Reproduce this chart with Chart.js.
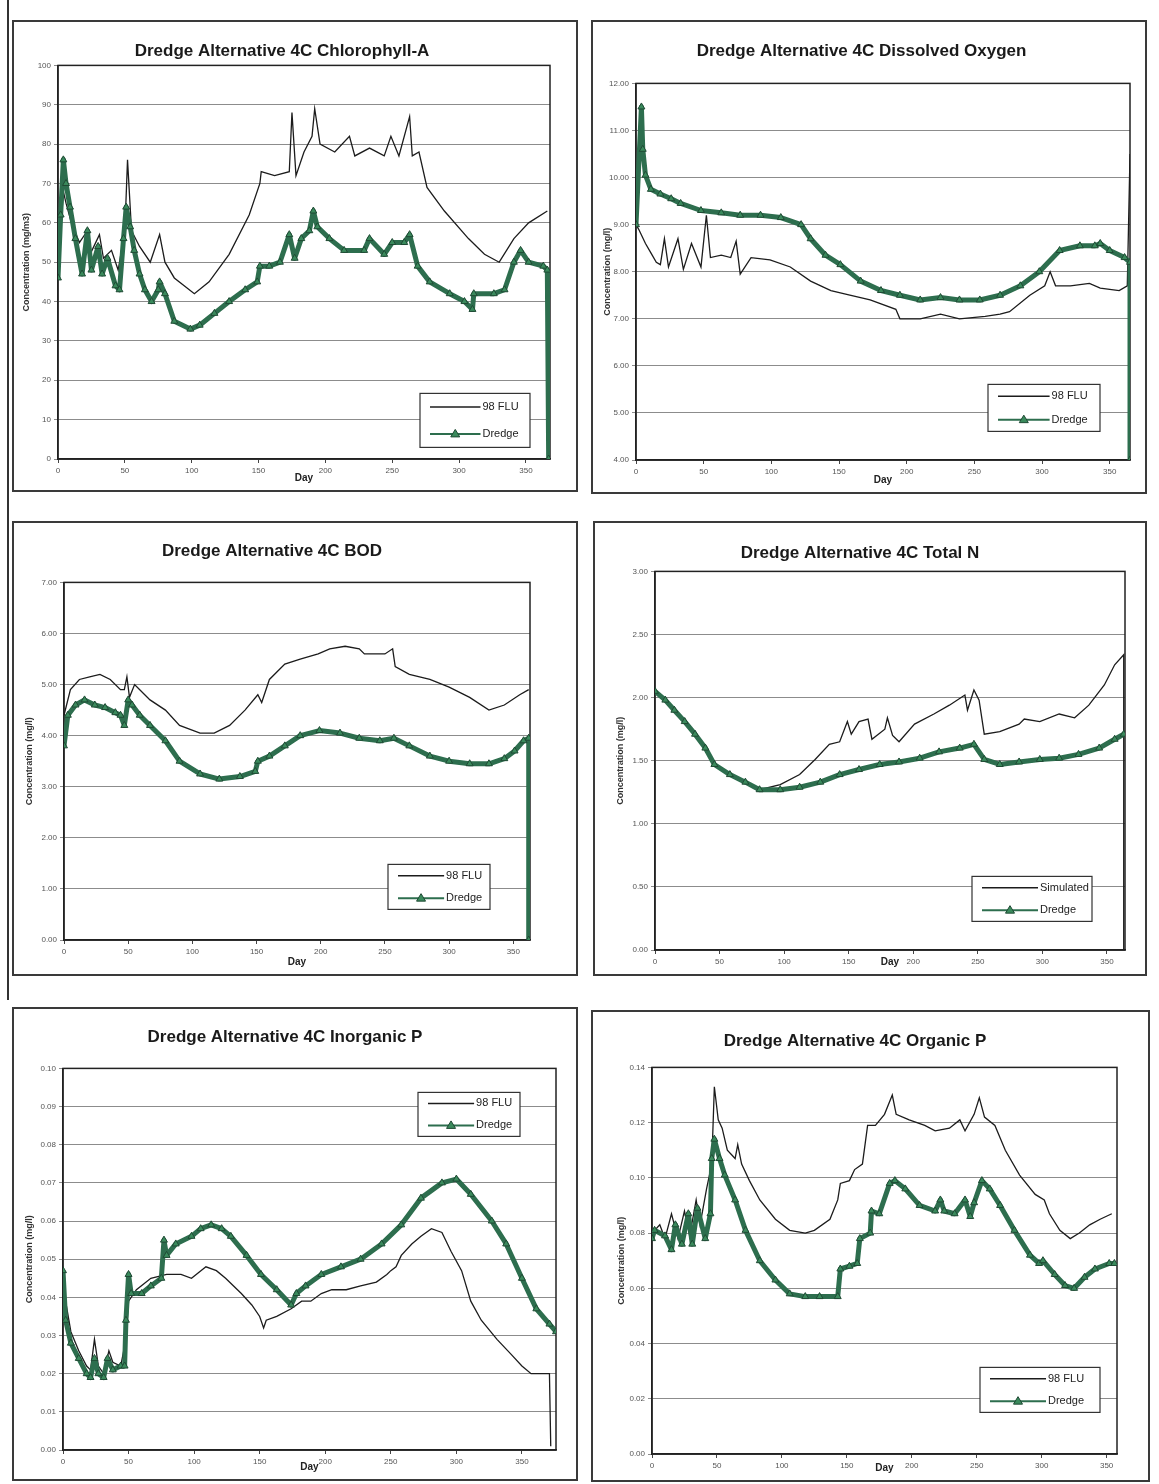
<!DOCTYPE html>
<html>
<head>
<meta charset="utf-8">
<script src="https://cdn.jsdelivr.net/npm/chart.js@4.4.0/dist/chart.umd.min.js"></script>
<style>
  body { margin: 0; background: #fff; width: 1159px; height: 1484px; position: relative; overflow: hidden; }
  .panel { position: absolute; box-sizing: border-box; border: 2px solid #3a3a3a; background: #fff; }
  .panel canvas { display: block; }
  .edge { position: absolute; left: 7px; top: 0; width: 2px; height: 1000px; background: #333; }
</style>
</head>
<body>
<div class="edge"></div>
<div class="panel" style="left:12px;top:20px;width:566px;height:472px"><canvas id="chl"></canvas></div>
<div class="panel" style="left:591px;top:20px;width:556px;height:474px"><canvas id="dox"></canvas></div>
<div class="panel" style="left:12px;top:521px;width:566px;height:455px"><canvas id="bod"></canvas></div>
<div class="panel" style="left:593px;top:521px;width:554px;height:455px"><canvas id="totn"></canvas></div>
<div class="panel" style="left:12px;top:1007px;width:566px;height:474px"><canvas id="inorgp"></canvas></div>
<div class="panel" style="left:591px;top:1010px;width:559px;height:472px"><canvas id="orgp"></canvas></div>
<script>
// [day, value] pairs for each run
const chlFlu = [[2,58],[4,68],[6,65],[10,60],[16,55],[22,58],[24,52],[31,57],[34,51],[40,53],[45,48],[50,58],[52,76],[55,58],[61,54],[69,50],[76,57],[80,50],[87,46],[102,42],[113,45],[128,52],[143,62],[151,70],[152,73],[162,72],[173,73],[175,88],[178,72],[184,78],[190,82],[192,89],[196,80],[207,78],[218,82],[222,77],[233,79],[244,77],[249,82],[255,77],[263,87],[265,77],[270,78],[276,69],[289,63],[307,56],[319,52],[330,50],[341,56],[352,60],[366,63]];
const chlDredge = [[0,46],[2,62],[4,76],[6,70],[9,64],[13,56],[18,47],[22,58],[25,48],[30,54],[33,47],[37,51],[43,44],[46,43],[49,56],[51,64],[54,59],[57,53],[61,47],[65,43],[70,40],[75,43],[76,45],[80,42],[87,35],[99,33],[106,34],[117,37],[128,40],[140,43],[149,45],[151,49],[158,49],[166,50],[173,57],[177,51],[182,56],[188,58],[191,63],[194,59],[203,56],[214,53],[229,53],[233,56],[244,52],[250,55],[259,55],[263,57],[269,49],[278,45],[293,42],[304,40],[310,38],[311,42],[326,42],[334,43],[341,50],[346,53],[352,50],[363,49],[366,48],[367,0]];

const doFlu = [[0,9.0],[2,8.9],[7,8.6],[11,8.4],[15,8.2],[18,8.15],[21,8.7],[24,8.1],[31,8.7],[35,8.05],[41,8.6],[48,8.1],[52,9.2],[55,8.3],[63,8.35],[70,8.3],[74,8.65],[77,7.95],[85,8.3],[99,8.25],[114,8.1],[129,7.8],[144,7.6],[158,7.5],[173,7.4],[192,7.2],[195,7.0],[210,7.0],[225,7.1],[239,7.0],[258,7.05],[269,7.1],[276,7.15],[291,7.5],[302,7.7],[306,8.0],[310,7.7],[321,7.7],[335,7.75],[343,7.65],[357,7.6],[363,7.7],[365,10.5]];
const doDredge = [[0,9.0],[4,11.5],[5,10.6],[7,10.05],[11,9.75],[18,9.65],[26,9.55],[33,9.45],[48,9.3],[63,9.25],[77,9.2],[92,9.2],[107,9.15],[122,9.0],[129,8.7],[140,8.35],[151,8.15],[166,7.8],[181,7.6],[195,7.5],[210,7.4],[225,7.45],[239,7.4],[254,7.4],[269,7.5],[284,7.7],[298,8.0],[313,8.45],[328,8.55],[339,8.55],[343,8.6],[350,8.45],[361,8.3],[365,8.2],[365,4.0]];

const bodFlu = [[0,4.4],[5,4.9],[12,5.1],[20,5.15],[28,5.2],[36,5.1],[44,4.9],[47,4.9],[49,5.15],[51,4.75],[55,5.0],[59,4.9],[67,4.7],[79,4.5],[90,4.2],[106,4.05],[117,4.05],[129,4.2],[141,4.5],[151,4.8],[154,4.65],[160,5.1],[172,5.4],[184,5.5],[198,5.6],[207,5.7],[219,5.75],[230,5.7],[234,5.6],[242,5.6],[250,5.6],[256,5.7],[258,5.35],[269,5.2],[285,5.1],[300,4.95],[316,4.75],[331,4.5],[343,4.6],[355,4.8],[362,4.9]];
const bodDredge = [[0,3.8],[3,4.4],[9,4.6],[16,4.7],[24,4.6],[32,4.55],[40,4.45],[44,4.4],[47,4.2],[50,4.7],[53,4.6],[59,4.4],[67,4.2],[79,3.9],[90,3.5],[106,3.25],[121,3.15],[137,3.2],[149,3.3],[151,3.5],[160,3.6],[172,3.8],[184,4.0],[199,4.1],[215,4.05],[230,3.95],[246,3.9],[257,3.95],[269,3.8],[285,3.6],[300,3.5],[316,3.45],[331,3.45],[343,3.55],[351,3.7],[358,3.9],[362,3.95],[362,0]];

const tnSimulated = [[0,2.05],[8,1.98],[15,1.9],[23,1.81],[31,1.71],[39,1.6],[46,1.47],[58,1.39],[70,1.33],[81,1.27],[97,1.31],[112,1.39],[124,1.51],[135,1.63],[143,1.65],[149,1.81],[152,1.71],[158,1.81],[165,1.83],[168,1.67],[178,1.75],[180,1.84],[184,1.7],[189,1.65],[201,1.79],[216,1.87],[228,1.94],[240,2.02],[242,1.9],[247,2.06],[251,1.98],[255,1.71],[267,1.73],[282,1.79],[286,1.83],[298,1.81],[313,1.87],[325,1.84],[336,1.94],[348,2.1],[356,2.26],[363,2.34],[363,0]];
const tnDredge = [[0,2.05],[8,1.98],[15,1.9],[23,1.81],[31,1.71],[39,1.6],[46,1.47],[58,1.39],[70,1.33],[81,1.27],[97,1.27],[112,1.29],[128,1.33],[143,1.39],[158,1.43],[174,1.47],[189,1.49],[205,1.52],[220,1.57],[236,1.6],[247,1.63],[255,1.51],[267,1.47],[282,1.49],[298,1.51],[313,1.52],[328,1.55],[344,1.6],[356,1.67],[363,1.71]];

const ipFlu = [[1,0.041],[6,0.031],[12,0.026],[18,0.022],[21,0.021],[24,0.029],[27,0.022],[31,0.020],[35,0.026],[38,0.023],[44,0.022],[48,0.029],[50,0.039],[56,0.042],[67,0.045],[79,0.046],[90,0.046],[98,0.045],[109,0.048],[117,0.047],[124,0.045],[136,0.041],[144,0.038],[150,0.035],[153,0.032],[155,0.034],[163,0.035],[174,0.037],[182,0.039],[189,0.039],[197,0.041],[205,0.042],[216,0.042],[227,0.043],[239,0.044],[247,0.046],[250,0.047],[254,0.048],[258,0.051],[266,0.054],[273,0.056],[281,0.058],[289,0.057],[296,0.052],[304,0.047],[311,0.039],[319,0.034],[331,0.029],[342,0.025],[350,0.022],[357,0.020],[365,0.020],[371,0.020],[372,0.001]];
const ipDredge = [[0,0.047],[2,0.034],[6,0.028],[12,0.024],[18,0.020],[21,0.019],[24,0.024],[27,0.020],[31,0.019],[34,0.024],[38,0.021],[44,0.022],[47,0.022],[48,0.034],[50,0.046],[52,0.041],[60,0.041],[67,0.043],[75,0.045],[77,0.055],[79,0.051],[86,0.054],[98,0.056],[105,0.058],[113,0.059],[121,0.058],[128,0.056],[140,0.051],[151,0.046],[163,0.042],[174,0.038],[178,0.041],[185,0.043],[197,0.046],[212,0.048],[227,0.050],[243,0.054],[258,0.059],[273,0.066],[289,0.070],[300,0.071],[311,0.067],[327,0.060],[338,0.054],[350,0.045],[361,0.037],[371,0.033],[376,0.031]];

const opFlu = [[0,0.080],[6,0.083],[10,0.078],[15,0.087],[20,0.078],[25,0.088],[29,0.079],[34,0.092],[37,0.083],[42,0.096],[46,0.105],[48,0.133],[51,0.121],[54,0.118],[58,0.110],[64,0.107],[66,0.112],[69,0.105],[75,0.099],[83,0.092],[95,0.085],[106,0.081],[118,0.080],[125,0.081],[137,0.085],[143,0.092],[145,0.098],[152,0.099],[156,0.103],[162,0.105],[166,0.119],[172,0.119],[179,0.123],[185,0.130],[188,0.123],[198,0.121],[210,0.119],[218,0.117],[229,0.118],[237,0.121],[241,0.117],[248,0.123],[252,0.129],[256,0.122],[264,0.119],[272,0.110],[283,0.101],[295,0.094],[302,0.092],[306,0.087],[314,0.081],[322,0.078],[329,0.080],[337,0.083],[345,0.085],[354,0.087]];
const opDredge = [[0,0.078],[2,0.081],[10,0.079],[15,0.074],[18,0.083],[23,0.076],[28,0.087],[31,0.076],[35,0.089],[41,0.078],[45,0.087],[46,0.107],[48,0.114],[52,0.107],[56,0.101],[64,0.092],[72,0.081],[83,0.070],[95,0.063],[106,0.058],[118,0.057],[129,0.057],[143,0.057],[145,0.067],[152,0.068],[158,0.069],[160,0.078],[168,0.080],[169,0.088],[175,0.087],[183,0.098],[187,0.099],[195,0.096],[206,0.090],[218,0.088],[222,0.092],[225,0.088],[233,0.087],[241,0.092],[245,0.086],[248,0.091],[254,0.099],[260,0.096],[268,0.090],[279,0.081],[291,0.072],[298,0.069],[301,0.070],[310,0.065],[318,0.061],[325,0.060],[333,0.064],[341,0.067],[352,0.069],[356,0.069]];

const fontFamily = 'Arial, "Liberation Sans", Helvetica, sans-serif';

// frame round the plot area
const plotFrame = {
  id: 'plotFrame',
  beforeDatasetsDraw(chart) {
    const { ctx, chartArea: a } = chart;
    ctx.save();
    ctx.strokeStyle = '#222';
    ctx.lineWidth = 1.5;
    ctx.strokeRect(a.left, a.top, a.right - a.left, a.bottom - a.top);
    ctx.restore();
  }
};

// boxed legend placed inside the plot area
const boxLegend = {
  id: 'boxLegend',
  afterDraw(chart, args, opts) {
    const { ctx, chartArea: a } = chart;
    const x = a.left + opts.left, y = a.top + opts.top, w = opts.w, h = opts.h;
    ctx.save();
    ctx.fillStyle = '#fff';
    ctx.fillRect(x, y, w, h);
    ctx.strokeStyle = '#333';
    ctx.lineWidth = 1.2;
    ctx.strokeRect(x, y, w, h);
    ctx.font = '11px ' + fontFamily;
    ctx.textBaseline = 'middle';
    chart.data.datasets.forEach((ds, i) => {
      const ry = y + h * (i * 2 + 1) / 4;
      const x0 = x + 10, x1 = x + w * 0.55;
      ctx.strokeStyle = ds.borderColor;
      ctx.lineWidth = i === 0 ? 1.5 : 2;
      ctx.beginPath();
      ctx.moveTo(x0, ry);
      ctx.lineTo(x1, ry);
      ctx.stroke();
      if (i === 1) {
        const cx = (x0 + x1) / 2;
        ctx.fillStyle = ds.pointBackgroundColor;
        ctx.strokeStyle = ds.pointBorderColor;
        ctx.lineWidth = 1;
        ctx.beginPath();
        ctx.moveTo(cx, ry - 4.5);
        ctx.lineTo(cx + 4.5, ry + 3);
        ctx.lineTo(cx - 4.5, ry + 3);
        ctx.closePath();
        ctx.fill();
        ctx.stroke();
      }
      ctx.fillStyle = '#222';
      ctx.fillText(ds.label, x1 + 2, ry);
    });
    ctx.restore();
  }
};

function drawPanel(id, p) {
  return new Chart(document.getElementById(id), {
    type: 'line',
    data: {
      datasets: [
        {
          label: p.names[0],
          data: p.flu.map(([x, y]) => ({ x, y })),
          borderColor: '#1c1c1c',
          borderWidth: 1.3,
          pointRadius: 0,
          tension: 0,
          order: 1
        },
        {
          label: p.names[1],
          data: p.dredge.map(([x, y]) => ({ x, y })),
          borderColor: '#2d6e4e',
          borderWidth: 5,
          borderJoinStyle: 'round',
          pointStyle: 'triangle',
          pointRadius: 4,
          pointBackgroundColor: '#3a8a5c',
          pointBorderColor: '#1f4a34',
          pointBorderWidth: 1,
          tension: 0,
          order: 0
        }
      ]
    },
    options: {
      responsive: true,
      maintainAspectRatio: false,
      animation: false,
      layout: { padding: { left: 0, right: p.padR, top: 0, bottom: 0 } },
      plugins: {
        legend: { display: false },
        tooltip: { enabled: false },
        title: {
          display: true,
          text: p.title,
          color: '#1a1a1a',
          font: { family: fontFamily, size: 17, weight: 'bold' },
          padding: { top: p.titlePad[0], bottom: p.titlePad[1] }
        },
        boxLegend: p.legend
      },
      scales: {
        x: {
          type: 'linear',
          min: 0,
          max: p.xMax,
          afterFit(scale) { scale.height = p.padB; },
          ticks: {
            stepSize: 50,
            includeBounds: false,
            maxRotation: 0,
            padding: 3,
            color: '#555',
            font: { family: fontFamily, size: 8 }
          },
          grid: { drawOnChartArea: false, tickLength: 4, color: '#444' },
          border: { color: '#222', width: 1.5 },
          title: {
            display: true,
            text: 'Day',
            color: '#222',
            font: { family: fontFamily, size: 10, weight: 'bold' },
            padding: { top: 0, bottom: 6 }
          }
        },
        y: {
          min: p.yMin,
          max: p.yMax,
          afterFit(scale) { scale.width = p.padL; },
          ticks: {
            stepSize: p.yStep,
            padding: 3,
            color: '#555',
            font: { family: fontFamily, size: 8 },
            callback: v => v.toFixed(p.dec)
          },
          grid: { color: '#8c8c8c', lineWidth: 1, tickLength: 4 },
          border: { color: '#222', width: 1.5 },
          title: {
            display: true,
            text: p.yTitle,
            color: '#333',
            font: { family: fontFamily, size: 9, weight: 'bold' },
            padding: { top: p.yTitlePad, bottom: 0 }
          }
        }
      }
    },
    plugins: [plotFrame, boxLegend]
  });
}

drawPanel('chl', {
  title: 'Dredge Alternative 4C Chlorophyll-A',
  yTitle: 'Concentration (mg/m3)',
  names: ['98 FLU', 'Dredge'],
  flu: chlFlu, dredge: chlDredge,
  xMax: 368, yMin: 0, yMax: 100, yStep: 10, dec: 0,
  padL: 44, padR: 26, padB: 31, titlePad: [19, 4], yTitlePad: 7,
  legend: { left: 362, top: 328, w: 110, h: 54 }
});

drawPanel('dox', {
  title: 'Dredge Alternative 4C Dissolved Oxygen',
  yTitle: 'Concentration (mg/l)',
  names: ['98 FLU', 'Dredge'],
  flu: doFlu, dredge: doDredge,
  xMax: 365, yMin: 4, yMax: 12, yStep: 1, dec: 2,
  padL: 43, padR: 15, padB: 32, titlePad: [19, 22], yTitlePad: 9,
  legend: { left: 352, top: 301, w: 112, h: 47 }
});

drawPanel('bod', {
  title: 'Dredge Alternative 4C BOD',
  yTitle: 'Concentration (mg/l)',
  names: ['98 FLU', 'Dredge'],
  flu: bodFlu, dredge: bodDredge,
  xMax: 363, yMin: 0, yMax: 7, yStep: 1, dec: 2,
  padL: 50, padR: 46, padB: 34, titlePad: [18, 21], yTitlePad: 10,
  legend: { left: 324, top: 282, w: 102, h: 45 }
});

drawPanel('totn', {
  title: 'Dredge Alternative 4C Total N',
  yTitle: 'Concentration (mg/l)',
  names: ['Simulated', 'Dredge'],
  flu: tnSimulated, dredge: tnDredge,
  xMax: 364, yMin: 0, yMax: 3, yStep: 0.5, dec: 2,
  padL: 60, padR: 20, padB: 24, titlePad: [20, 8], yTitlePad: 20,
  legend: { left: 317, top: 305, w: 120, h: 45 }
});

drawPanel('inorgp', {
  title: 'Dredge Alternative 4C Inorganic P',
  yTitle: 'Concentration (mg/l)',
  names: ['98 FLU', 'Dredge'],
  flu: ipFlu, dredge: ipDredge,
  xMax: 376, yMin: 0, yMax: 0.10, yStep: 0.01, dec: 2,
  padL: 49, padR: 20, padB: 29, titlePad: [18, 21], yTitlePad: 10,
  legend: { left: 355, top: 24, w: 102, h: 44 }
});

drawPanel('orgp', {
  title: 'Dredge Alternative 4C Organic P',
  yTitle: 'Concentration (mg/l)',
  names: ['98 FLU', 'Dredge'],
  flu: opFlu, dredge: opDredge,
  xMax: 358, yMin: 0, yMax: 0.14, yStep: 0.02, dec: 2,
  padL: 59, padR: 31, padB: 26, titlePad: [19, 16], yTitlePad: 23,
  legend: { left: 328, top: 300, w: 120, h: 45 }
});
</script>
</body>
</html>
